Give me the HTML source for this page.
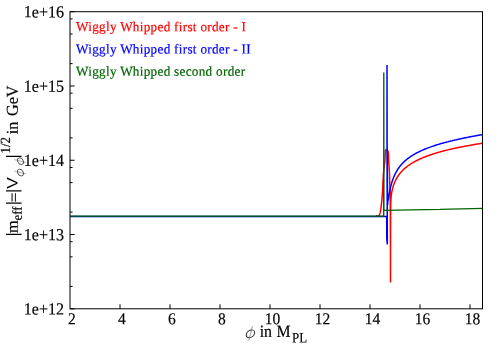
<!DOCTYPE html>
<html><head><meta charset="utf-8"><title>plot</title>
<style>
html,body{margin:0;padding:0;background:#fff;}
body{width:500px;height:350px;overflow:hidden;}
svg{display:block;will-change:transform;}
text{font-family:"Liberation Serif",serif;stroke-width:0.18px;paint-order:stroke;}
text.sans{font-family:"Liberation Sans",sans-serif;stroke-width:0;}
</style></head><body>
<svg width="500" height="350" viewBox="0 0 500 350">
<rect width="500" height="350" fill="#fff"/>
<g fill="none" stroke-linejoin="bevel" stroke-linecap="butt" stroke-width="1.5">
<path stroke="#ff0000" d="M376.00,216.10 L378.30,216.10 L379.26,215.20 L379.81,213.95 L380.19,212.64 L380.46,211.32 L380.68,209.98 L380.88,208.64 L381.06,207.30 L381.23,205.96 L381.38,204.61 L381.52,203.26 L381.65,201.92 L381.77,200.57 L381.89,199.22 L382.01,197.87 L382.14,196.52 L382.26,195.18 L382.38,193.83 L382.49,192.48 L382.58,191.13 L382.65,189.78 L382.72,188.43 L382.78,187.07 L382.84,185.72 L382.90,184.37 L382.95,183.02 L383.02,181.66 L383.08,180.31 L383.16,178.96 L383.23,177.61 L383.31,176.26 L383.39,174.91 L383.48,173.56 L383.58,172.21 L383.71,170.86 L383.86,169.52 L384.03,168.17 L384.20,166.83 L384.36,165.48 L384.54,164.14 L384.72,162.80 L384.86,161.45 L384.96,160.11 L385.03,158.75 L385.10,157.40 L385.15,156.05 L385.21,154.70 L385.28,153.26 L385.32,151.49 L385.40,150.07 L385.82,149.77 L387.15,150.32 L388.11,151.29 L388.33,152.52 L388.44,153.89 L388.52,155.30 L388.58,156.66 L388.63,158.02 L388.66,159.37 L388.70,160.72 L388.75,162.07 L388.82,163.43 L388.91,164.78 L389.01,166.13 L389.11,167.48 L389.21,168.83 L389.30,170.18 L389.38,171.53 L389.44,172.88 L389.48,174.23 L389.53,175.59 L389.56,176.94 L389.60,178.29 L389.64,179.65 L389.67,181.00 L389.71,182.35 L389.75,183.70 L389.80,185.06 L389.87,186.41 L389.95,187.76 L390.03,189.11 L390.10,190.46 L390.15,191.82 L390.17,193.17 L390.18,194.52 L390.20,195.87 L390.22,197.23 L390.23,198.58 L390.25,199.93 L390.26,201.29 L390.27,202.64 L390.29,203.99 L390.30,205.35 L390.31,206.70 L390.32,208.05 L390.33,209.41 L390.34,210.76 L390.35,212.11 L390.36,213.47 L390.36,214.82 L390.37,216.17 L390.38,217.53 L390.39,218.88 L390.39,220.24 L390.40,221.59 L390.40,222.94 L390.41,224.30 L390.41,225.65 L390.42,227.00 L390.42,228.36 L390.43,229.71 L390.43,231.07 L390.43,232.42 L390.44,233.77 L390.44,235.13 L390.44,236.48 L390.45,237.83 L390.45,239.19 L390.45,240.54 L390.45,241.89 L390.46,243.25 L390.46,244.60 L390.46,245.96 L390.46,247.31 L390.47,248.66 L390.47,250.02 L390.47,251.37 L390.47,252.72 L390.48,254.08 L390.48,255.43 L390.48,256.78 L390.48,258.14 L390.48,259.49 L390.48,260.84 L390.49,262.20 L390.49,263.55 L390.49,264.90 L390.49,266.26 L390.49,267.61 L390.49,268.96 L390.49,270.32 L390.50,271.67 L390.50,273.03 L390.50,274.38 L390.50,275.73 L390.50,277.09 L390.50,278.44 L390.50,279.79 L390.50,281.15 L390.50,282.50 L390.50,279.41 L390.50,276.32 L390.50,273.23 L390.51,270.14 L390.51,267.06 L390.51,263.97 L390.52,260.88 L390.52,257.79 L390.52,254.70 L390.53,251.61 L390.53,248.52 L390.54,245.43 L390.55,242.34 L390.55,239.26 L390.56,236.17 L390.56,233.08 L390.57,229.99 L390.58,226.90 L390.59,223.81 L390.60,220.72 L390.61,217.63 L390.63,214.54 L390.65,211.45 L390.67,208.36 L390.70,205.28 L390.79,202.19 L390.95,199.10 L391.17,196.02 L391.60,192.97 L391.90,191.44 L392.20,190.08 L392.50,188.84 L392.80,187.72 L393.10,186.69 L393.40,185.73 L393.70,184.84 L394.00,184.00 L394.30,183.22 L394.60,182.47 L394.90,181.77 L395.20,181.10 L395.50,180.47 L395.80,179.86 L396.10,179.27 L396.40,178.72 L396.70,178.18 L397.00,177.66 L397.30,177.16 L397.60,176.68 L397.90,176.22 L398.20,175.77 L398.50,175.33 L398.80,174.91 L399.10,174.50 L399.40,174.10 L399.70,173.72 L400.00,173.34 L400.50,172.73 L401.19,171.94 L401.88,171.18 L402.57,170.47 L403.26,169.79 L403.95,169.14 L404.63,168.51 L405.32,167.92 L406.01,167.35 L406.70,166.80 L407.39,166.27 L408.08,165.76 L408.77,165.26 L409.46,164.79 L410.15,164.32 L410.84,163.88 L411.53,163.44 L412.21,163.02 L412.90,162.61 L413.59,162.21 L414.28,161.83 L414.97,161.45 L415.66,161.08 L416.35,160.72 L417.04,160.37 L417.73,160.03 L418.42,159.70 L419.11,159.37 L419.79,159.05 L420.48,158.74 L421.17,158.44 L421.86,158.14 L422.55,157.84 L423.24,157.55 L423.93,157.27 L424.62,157.00 L425.31,156.73 L426.00,156.46 L426.68,156.20 L427.37,155.94 L428.06,155.69 L428.75,155.44 L429.44,155.20 L430.13,154.96 L430.82,154.72 L431.51,154.49 L432.20,154.26 L432.89,154.03 L433.58,153.81 L434.26,153.59 L434.95,153.38 L435.64,153.17 L436.33,152.96 L437.02,152.75 L437.71,152.55 L438.40,152.35 L439.09,152.15 L439.78,151.96 L440.47,151.77 L441.16,151.58 L441.84,151.39 L442.53,151.20 L443.22,151.02 L443.91,150.84 L444.60,150.66 L445.29,150.49 L445.98,150.31 L446.67,150.14 L447.36,149.97 L448.05,149.81 L448.74,149.64 L449.42,149.48 L450.11,149.31 L450.80,149.15 L451.49,149.00 L452.18,148.84 L452.87,148.68 L453.56,148.53 L454.25,148.38 L454.94,148.23 L455.63,148.08 L456.32,147.93 L457.00,147.79 L457.69,147.64 L458.38,147.50 L459.07,147.36 L459.76,147.22 L460.45,147.08 L461.14,146.94 L461.83,146.81 L462.52,146.67 L463.21,146.54 L463.89,146.41 L464.58,146.28 L465.27,146.15 L465.96,146.02 L466.65,145.89 L467.34,145.76 L468.03,145.64 L468.72,145.52 L469.41,145.39 L470.10,145.27 L470.79,145.15 L471.47,145.03 L472.16,144.91 L472.85,144.79 L473.54,144.68 L474.23,144.56 L474.92,144.44 L475.61,144.33 L476.30,144.22 L476.99,144.10 L477.68,143.99 L478.37,143.88 L479.05,143.77 L479.74,143.66 L480.43,143.56 L481.12,143.45 L481.81,143.34 L482.50,143.24"/>
<path stroke="#0000ff" d="M70.00,216.50 L386.70,216.50 L386.75,238.40 L387.35,244.40 L387.00,140.00 L387.00,64.90 L387.10,140.00 L387.55,200.00 L387.60,205.00 L387.80,201.20 L388.30,199.60 L388.60,197.48 L388.90,195.54 L389.20,193.76 L389.50,192.11 L389.80,190.59 L390.10,189.16 L390.40,187.83 L390.70,186.59 L391.00,185.41 L391.30,184.31 L391.60,183.26 L391.90,182.27 L392.20,181.33 L392.50,180.43 L392.80,179.58 L393.10,178.76 L393.40,177.98 L393.70,177.23 L394.00,176.51 L394.30,175.82 L394.60,175.15 L394.90,174.52 L395.20,173.90 L395.50,173.30 L395.80,172.73 L396.10,172.17 L396.40,171.63 L396.70,171.11 L397.00,170.61 L397.30,170.12 L397.60,169.64 L397.90,169.18 L398.20,168.73 L398.50,168.29 L398.80,167.86 L399.10,167.45 L399.40,167.04 L399.70,166.65 L400.00,166.26 L400.50,165.64 L401.19,164.82 L401.88,164.04 L402.57,163.30 L403.26,162.59 L403.95,161.92 L404.63,161.27 L405.32,160.65 L406.01,160.05 L406.70,159.48 L407.39,158.92 L408.08,158.39 L408.77,157.87 L409.46,157.37 L410.15,156.89 L410.84,156.42 L411.53,155.97 L412.21,155.53 L412.90,155.10 L413.59,154.69 L414.28,154.28 L414.97,153.89 L415.66,153.51 L416.35,153.13 L417.04,152.77 L417.73,152.41 L418.42,152.06 L419.11,151.72 L419.79,151.39 L420.48,151.07 L421.17,150.75 L421.86,150.44 L422.55,150.13 L423.24,149.83 L423.93,149.54 L424.62,149.25 L425.31,148.97 L426.00,148.69 L426.68,148.42 L427.37,148.15 L428.06,147.88 L428.75,147.63 L429.44,147.37 L430.13,147.12 L430.82,146.88 L431.51,146.63 L432.20,146.39 L432.89,146.16 L433.58,145.93 L434.26,145.70 L434.95,145.47 L435.64,145.25 L436.33,145.03 L437.02,144.82 L437.71,144.61 L438.40,144.40 L439.09,144.19 L439.78,143.98 L440.47,143.78 L441.16,143.58 L441.84,143.39 L442.53,143.19 L443.22,143.00 L443.91,142.81 L444.60,142.62 L445.29,142.44 L445.98,142.25 L446.67,142.07 L447.36,141.89 L448.05,141.72 L448.74,141.54 L449.42,141.37 L450.11,141.19 L450.80,141.02 L451.49,140.86 L452.18,140.69 L452.87,140.52 L453.56,140.36 L454.25,140.20 L454.94,140.04 L455.63,139.88 L456.32,139.72 L457.00,139.57 L457.69,139.41 L458.38,139.26 L459.07,139.11 L459.76,138.96 L460.45,138.81 L461.14,138.66 L461.83,138.51 L462.52,138.37 L463.21,138.22 L463.89,138.08 L464.58,137.94 L465.27,137.80 L465.96,137.66 L466.65,137.52 L467.34,137.38 L468.03,137.25 L468.72,137.11 L469.41,136.98 L470.10,136.84 L470.79,136.71 L471.47,136.58 L472.16,136.45 L472.85,136.32 L473.54,136.19 L474.23,136.07 L474.92,135.94 L475.61,135.81 L476.30,135.69 L476.99,135.56 L477.68,135.44 L478.37,135.32 L479.05,135.20 L479.74,135.08 L480.43,134.96 L481.12,134.84 L481.81,134.72 L482.50,134.60"/>
<path stroke="#006400" stroke-width="1.35" d="M70.00,216.10 L383.70,216.10 L383.80,72.40 L383.90,210.40 L440.00,209.30 L482.50,208.30"/>
</g>
<g stroke="#000" stroke-width="1" fill="none">
<rect x="70.0" y="11.7" width="412.5" height="297.1"/>
<line x1="70.0" y1="11.70" x2="74.6" y2="11.70"/>
<line x1="70.0" y1="63.62" x2="72.6" y2="63.62"/>
<line x1="70.0" y1="34.06" x2="72.6" y2="34.06"/>
<line x1="70.0" y1="18.90" x2="72.6" y2="18.90"/>
<line x1="70.0" y1="85.98" x2="74.6" y2="85.98"/>
<line x1="70.0" y1="137.89" x2="72.6" y2="137.89"/>
<line x1="70.0" y1="108.33" x2="72.6" y2="108.33"/>
<line x1="70.0" y1="93.17" x2="72.6" y2="93.17"/>
<line x1="70.0" y1="160.25" x2="74.6" y2="160.25"/>
<line x1="70.0" y1="212.17" x2="72.6" y2="212.17"/>
<line x1="70.0" y1="182.61" x2="72.6" y2="182.61"/>
<line x1="70.0" y1="167.45" x2="72.6" y2="167.45"/>
<line x1="70.0" y1="234.53" x2="74.6" y2="234.53"/>
<line x1="70.0" y1="286.44" x2="72.6" y2="286.44"/>
<line x1="70.0" y1="256.88" x2="72.6" y2="256.88"/>
<line x1="70.0" y1="241.72" x2="72.6" y2="241.72"/>
<line x1="70.0" y1="308.80" x2="74.6" y2="308.80"/>
<line x1="120.0" y1="308.8" x2="120.0" y2="304.3"/>
<line x1="170.0" y1="308.8" x2="170.0" y2="304.3"/>
<line x1="220.0" y1="308.8" x2="220.0" y2="304.3"/>
<line x1="270.0" y1="308.8" x2="270.0" y2="304.3"/>
<line x1="320.0" y1="308.8" x2="320.0" y2="304.3"/>
<line x1="370.0" y1="308.8" x2="370.0" y2="304.3"/>
<line x1="420.0" y1="308.8" x2="420.0" y2="304.3"/>
<line x1="470.0" y1="308.8" x2="470.0" y2="304.3"/>
</g>
<g fill="#000">
<text transform="translate(64.00,17.40) rotate(0.04) scale(0.945,1)" font-size="17.0px" text-anchor="end" stroke="#000">1e+16</text>
<text transform="translate(64.00,91.68) rotate(0.04) scale(0.945,1)" font-size="17.0px" text-anchor="end" stroke="#000">1e+15</text>
<text transform="translate(64.00,165.95) rotate(0.04) scale(0.945,1)" font-size="17.0px" text-anchor="end" stroke="#000">1e+14</text>
<text transform="translate(64.00,240.22) rotate(0.04) scale(0.945,1)" font-size="17.0px" text-anchor="end" stroke="#000">1e+13</text>
<text transform="translate(64.00,314.50) rotate(0.04) scale(0.945,1)" font-size="17.0px" text-anchor="end" stroke="#000">1e+12</text>
<text transform="translate(72.00,324.30) rotate(0.04) scale(0.93,1)" font-size="16.7px" text-anchor="middle" stroke="#000">2</text>
<text transform="translate(122.00,324.30) rotate(0.04) scale(0.93,1)" font-size="16.7px" text-anchor="middle" stroke="#000">4</text>
<text transform="translate(172.00,324.30) rotate(0.04) scale(0.93,1)" font-size="16.7px" text-anchor="middle" stroke="#000">6</text>
<text transform="translate(222.00,324.30) rotate(0.04) scale(0.93,1)" font-size="16.7px" text-anchor="middle" stroke="#000">8</text>
<text transform="translate(272.60,324.30) rotate(0.04) scale(0.93,1)" font-size="16.7px" text-anchor="middle" stroke="#000">10</text>
<text transform="translate(322.60,324.30) rotate(0.04) scale(0.93,1)" font-size="16.7px" text-anchor="middle" stroke="#000">12</text>
<text transform="translate(372.60,324.30) rotate(0.04) scale(0.93,1)" font-size="16.7px" text-anchor="middle" stroke="#000">14</text>
<text transform="translate(422.60,324.30) rotate(0.04) scale(0.93,1)" font-size="16.7px" text-anchor="middle" stroke="#000">16</text>
<text transform="translate(472.60,324.30) rotate(0.04) scale(0.93,1)" font-size="16.7px" text-anchor="middle" stroke="#000">18</text>
</g>
<g>
<text transform="translate(76.00,31.10) rotate(0.04) scale(0.97,1)" font-size="13.6px" fill="#ff0000" stroke="#ff0000" letter-spacing="0.31px">Wiggly Whipped first order - I</text>
<text transform="translate(76.00,53.40) rotate(0.04) scale(0.97,1)" font-size="13.6px" fill="#0000ff" stroke="#0000ff" letter-spacing="0.31px">Wiggly Whipped first order - II</text>
<text transform="translate(76.00,75.70) rotate(0.04) scale(0.97,1)" font-size="13.6px" fill="#006400" stroke="#006400" letter-spacing="0.31px">Wiggly Whipped second order</text>
</g>
<g fill="#000">
<g transform="translate(250.45,333.85) scale(1.0)" fill="none" stroke="#2a2a2a"><ellipse rx="4.1" ry="3.8" transform="skewX(-14) rotate(-20)" stroke-width="0.95"/><line x1="1.95" y1="-7.6" x2="-1.7" y2="6.9" stroke-width="0.6" stroke="#555"/></g>
<text transform="translate(259.70,337.10) rotate(0.04) scale(0.92,1)" font-size="17.3px" stroke="#000">in</text>
<text transform="translate(276.60,337.10) rotate(0.04) scale(0.915,1)" font-size="17.3px" stroke="#000">M</text>
<text transform="translate(292.00,342.40) rotate(0.04) scale(0.89,1)" font-size="14.5px" stroke="#000">PL</text>
<text transform="translate(18.00,236.45) rotate(-89.96) scale(1.0,1)" font-size="16.6px" class="sans" stroke="#000">|</text>
<text transform="translate(17.70,233.10) rotate(-89.96) scale(0.975,1)" font-size="16.6px" stroke="#000">m</text>
<text transform="translate(21.80,220.40) rotate(-89.96) scale(0.94,1)" font-size="13.6px" stroke="#000">eff</text>
<text transform="translate(18.00,205.25) rotate(-89.96) scale(1.0,1)" font-size="16.6px" class="sans" stroke="#000">|</text>
<text transform="translate(19.25,202.20) rotate(-89.96) scale(1.05,1)" font-size="16.6px" stroke="#000">=</text>
<text transform="translate(18.00,192.95) rotate(-89.96) scale(1.0,1)" font-size="16.6px" class="sans" stroke="#000">|</text>
<text transform="translate(17.50,188.70) rotate(-89.96) scale(1.13,1)" font-size="15.3px" class="sans" stroke="#000">V</text>
<g transform="translate(20.5,172.6) rotate(-90)"><g transform="translate(0.00,0.00) scale(0.8)" fill="none" stroke="#2a2a2a"><ellipse rx="4.1" ry="3.8" transform="skewX(-14) rotate(-20)" stroke-width="0.95"/><line x1="1.95" y1="-7.6" x2="-1.7" y2="6.9" stroke-width="0.6" stroke="#555"/></g></g>
<g transform="translate(20.5,161.2) rotate(-90)"><g transform="translate(0.00,0.00) scale(0.8)" fill="none" stroke="#2a2a2a"><ellipse rx="4.1" ry="3.8" transform="skewX(-14) rotate(-20)" stroke-width="0.95"/><line x1="1.95" y1="-7.6" x2="-1.7" y2="6.9" stroke-width="0.6" stroke="#555"/></g></g>
<text transform="translate(18.00,158.45) rotate(-89.96) scale(1.0,1)" font-size="16.6px" class="sans" stroke="#000">|</text>
<text transform="translate(10.00,153.50) rotate(-89.96) scale(0.92,1)" font-size="14px" stroke="#000">1/2</text>
<text transform="translate(17.70,134.20) rotate(-89.96) scale(0.975,1)" font-size="16.6px" stroke="#000">in</text>
<text transform="translate(17.70,116.00) rotate(-89.96) scale(0.975,1)" font-size="16.6px" stroke="#000">GeV</text>
</g>
</svg>
</body></html>
